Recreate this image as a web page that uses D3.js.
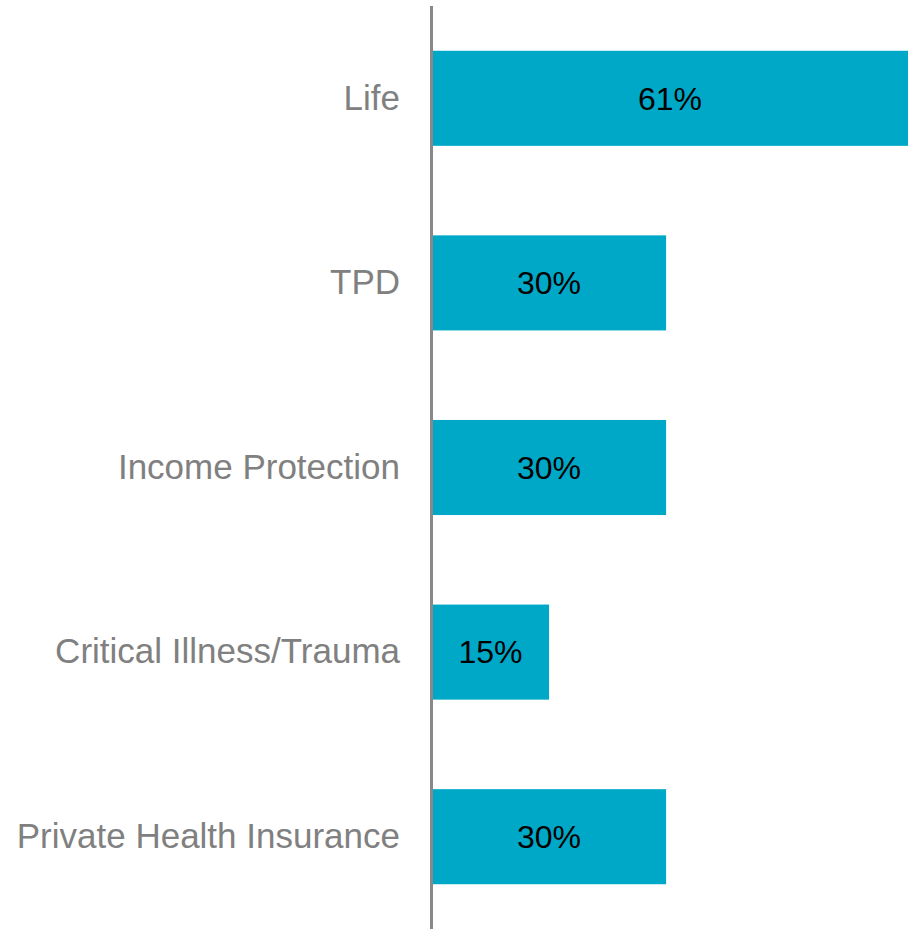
<!DOCTYPE html>
<html>
<head>
<meta charset="utf-8">
<script src="https://cdn.jsdelivr.net/npm/d3@7"></script>
<style>
  body { margin: 0; background: #fff; }
  svg { display: block; }
</style>
</head>
<body>
<svg id="chart" width="915" height="929"></svg>
<script>
// chart data
var categories = ["Life", "TPD", "Income Protection", "Critical Illness/Trauma", "Private Health Insurance"];
var values = [61, 30, 30, 15, 30];

var svg = d3.select("#chart"),
    margin = {top: 6, right: 7, bottom: 0, left: 432},
    width = +svg.attr("width") - margin.left - margin.right,
    height = +svg.attr("height") - margin.top - margin.bottom,
    g = svg.append("g").attr("transform", "translate(" + margin.left + "," + margin.top + ")");

var data = categories.map(function(c, i) { return {cat: c, value: values[i]}; });

var x = d3.scaleLinear()
    .domain([0, 61])
    .range([0, width]);

var y = d3.scaleBand()
    .domain(categories)
    .range([0, height])
    .paddingInner(0.485)
    .paddingOuter(0.2425);

// bars
g.selectAll(".bar")
  .data(data)
  .enter().append("rect")
    .attr("class", "bar")
    .attr("x", 0)
    .attr("y", function(d) { return y(d.cat); })
    .attr("width", function(d) { return x(d.value); })
    .attr("height", y.bandwidth())
    .attr("fill", "#00A8C8");

// value labels
g.selectAll(".val")
  .data(data)
  .enter().append("text")
    .attr("class", "val")
    .attr("x", function(d) { return x(d.value) / 2; })
    .attr("y", function(d) { return y(d.cat) + y.bandwidth() / 2; })
    .attr("dy", "0.35em")
    .attr("text-anchor", "middle")
    .style("font-family", "'Liberation Sans', Arial, sans-serif")
    .style("font-size", "32px")
    .attr("fill", "#000")
    .text(function(d) { return d.value + "%"; });

// category axis
var axis = g.append("g")
    .call(d3.axisLeft(y).tickSize(0).tickPadding(32));

axis.select(".domain")
    .attr("stroke", "#888")
    .attr("stroke-width", 3)
    .attr("d", "M-0.5,0V" + height);

axis.selectAll("text")
    .style("font-family", "'Liberation Sans', Arial, sans-serif")
    .style("font-size", "35px")
    .attr("fill", "#808080");
</script>
</body>
</html>
